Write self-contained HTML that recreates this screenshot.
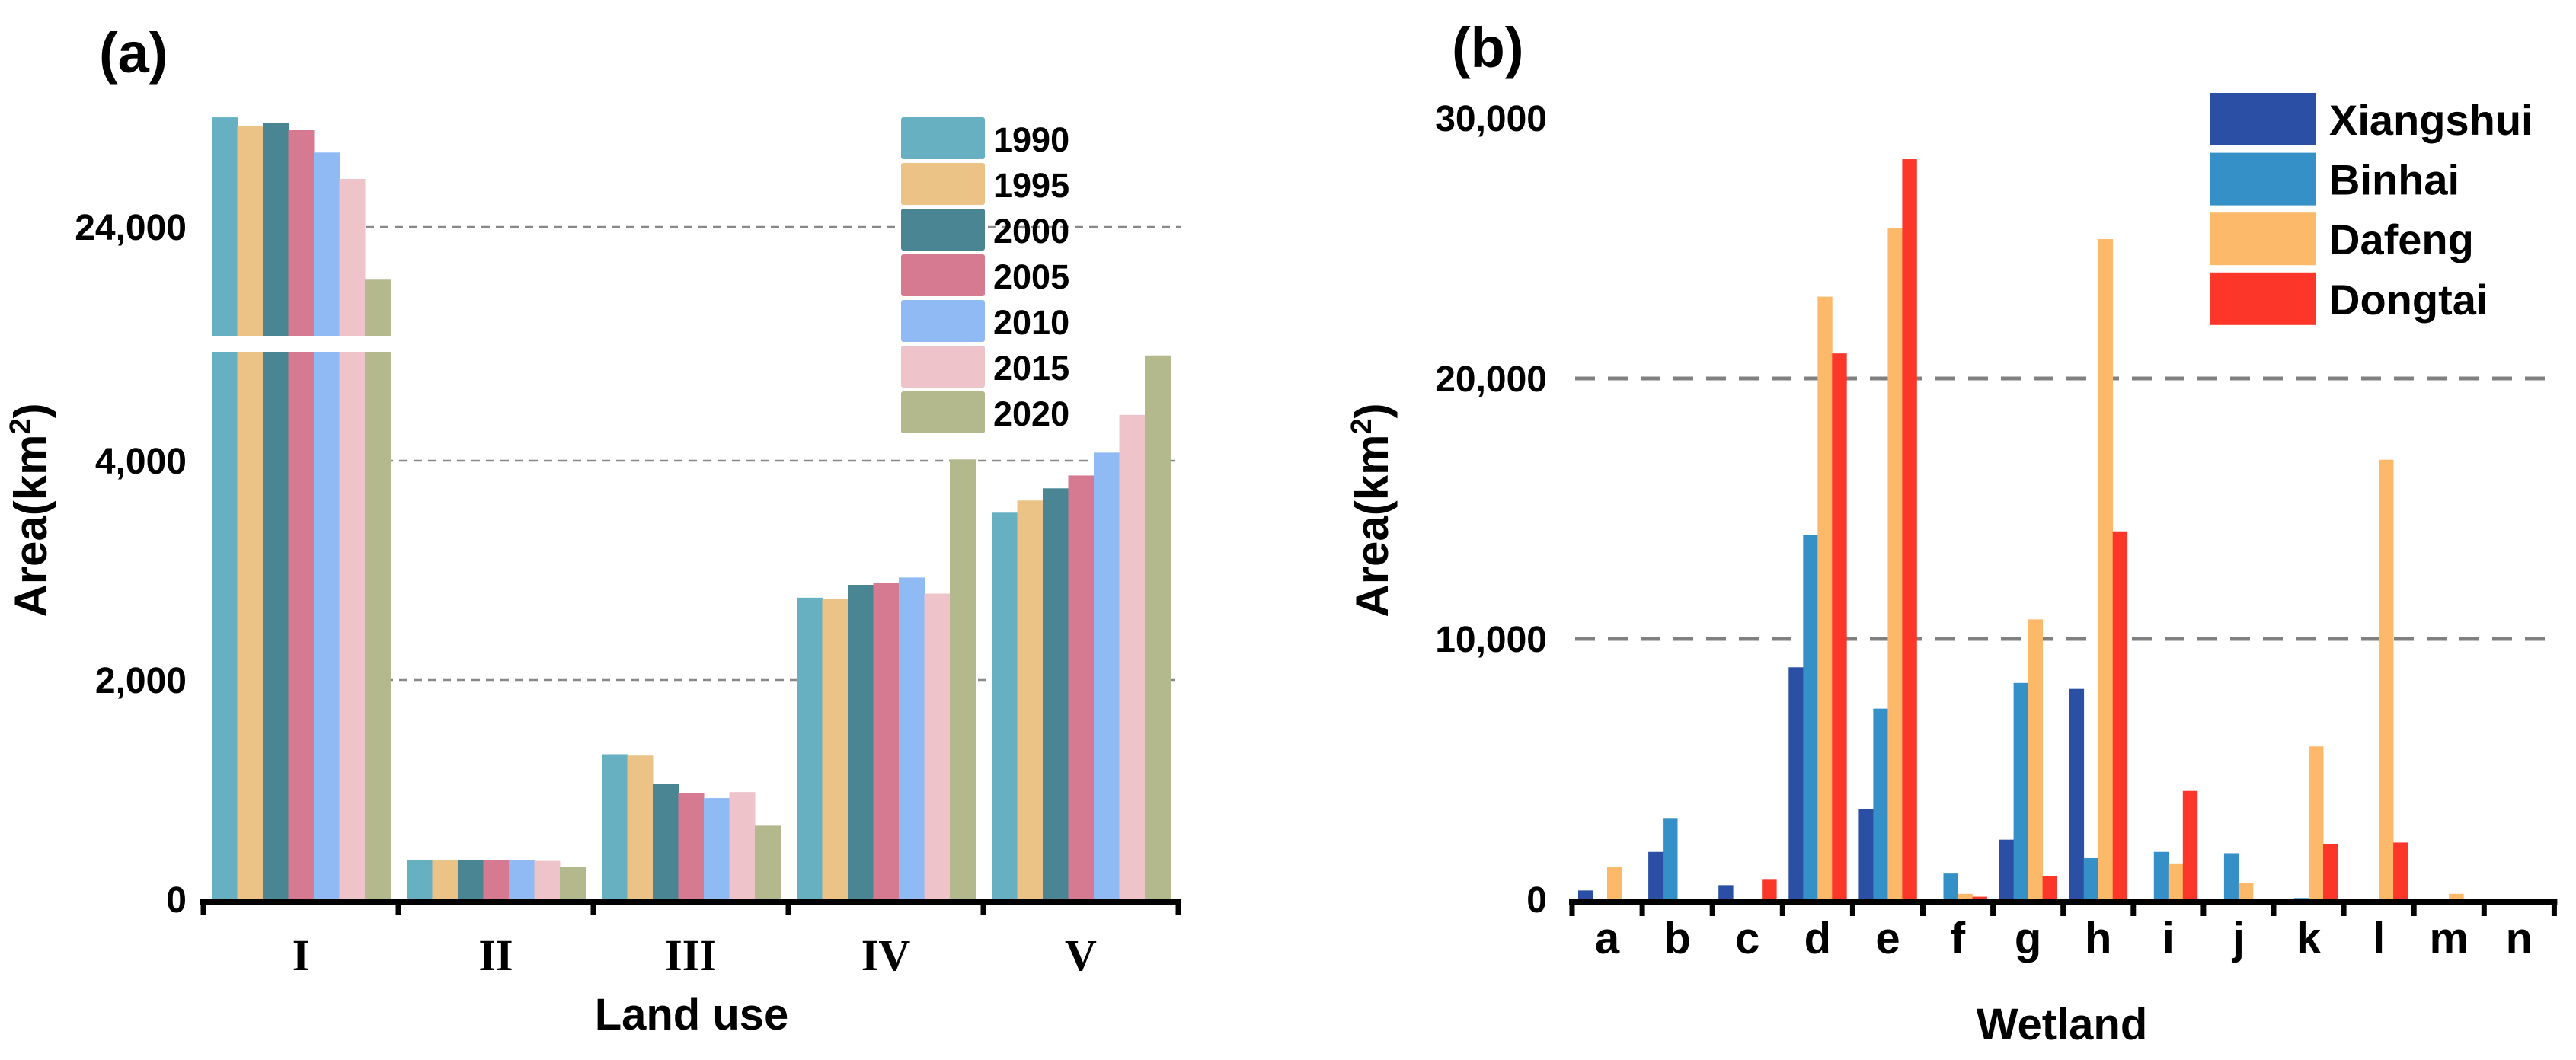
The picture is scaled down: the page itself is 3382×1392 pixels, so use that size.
<!DOCTYPE html>
<html><head><meta charset="utf-8"><style>
html,body{margin:0;padding:0;background:#fff;}
svg{display:block;font-family:"Liberation Sans","DejaVu Sans",sans-serif;font-weight:bold;}
</style></head><body>
<svg id="chart" width="3382" height="1392" viewBox="0 0 3382 1392" xmlns="http://www.w3.org/2000/svg">
<g id="pa"></g>
<g id="pb"></g>
</svg>
<script>
// ---- Panel (a) data ----
const landCats = ["I","II","III","IV","V"];
const years = ["1990","1995","2000","2005","2010","2015","2020"];
const yearColors = ["#67b0c1","#ebc386","#4a8593","#d67a92","#8fbaf3","#eec3ca","#b3b88d"];
const v1990 = [28025, 357, 1323, 2751, 3526];
const v1995 = [27702, 357, 1311, 2738, 3637];
const v2000 = [27826, 357, 1052, 2868, 3748];
const v2005 = [27553, 357, 966, 2886, 3865];
const v2010 = [26733, 360, 923, 2935, 4074];
const v2015 = [25764, 350, 978, 2788, 4418];
const v2020 = [22062, 295, 671, 4012, 4960];
const aTickVals = [0, 2000, 4000, 24000];
const aTickLabels = ["0","2,000","4,000","24,000"];
// ---- Panel (b) data ----
const wetCats = ["a","b","c","d","e","f","g","h","i","j","k","l","m","n"];
const regions = ["Xiangshui","Binhai","Dafeng","Dongtai"];
const regionColors = ["#2a4fa5","#3590c8","#fdb96a","#fc3628"];
const xiangshui = [340,1820,545,8910,3480,0,2290,8080,0,0,0,0,0,0];
const binhai = [0,3120,0,13980,7320,990,8310,1580,1820,1770,50,20,0,0];
const dafeng = [1250,0,0,23140,25790,210,10750,25350,1380,620,5870,16880,210,0];
const dongtai = [0,0,780,20960,28420,100,880,14130,4160,0,2130,2180,0,0];
const bTickVals = [0,10000,20000,30000];
const bTickLabels = ["0","10,000","20,000","30,000"];

const NS="http://www.w3.org/2000/svg";
function mk(tag, parent, attrs){const e=document.createElementNS(NS,tag);for(const k in attrs)e.setAttribute(k,attrs[k]);parent.appendChild(e);return e;}

// ===== Panel A =====
const pa=document.getElementById('pa');
const aX0=267, aBase=1181, aGroup=256;
function yA(v){
  if(v<=5000) return aBase - v*(1181-893)/2000;
  return 441 - (v-20000)*(441-298)/4000;
}
const aBreakTop=441, aBreakBot=462;
[[2000,505],[4000,505],[24000,480]].forEach(([v,x0])=>{
  const l=mk('line',pa,{x1:x0,x2:1551,y1:yA(v),y2:yA(v),stroke:'#888','stroke-width':2.5,'stroke-dasharray':'11 8'});
  
  
});
const aSeries=[v1990,v1995,v2000,v2005,v2010,v2015,v2020];
const bwA=33.5;
aSeries.forEach((ser,si)=>{
  ser.forEach((v,ci)=>{
    const x=aX0+ci*aGroup+11+si*bwA;
    if(v>5000){
      const r1=mk('rect',pa,{x:x,y:aBreakBot,width:bwA+0.5,height:aBase-aBreakBot,fill:yearColors[si]});
      
      
      const yt=yA(v);
      const r2=mk('rect',pa,{x:x,y:yt,width:bwA+0.5,height:aBreakTop-yt,fill:yearColors[si]});
      
      
    } else {
      const yt=yA(v);
      const r=mk('rect',pa,{x:x,y:yt,width:bwA+0.5,height:aBase-yt,fill:yearColors[si]});
      
      
    }
  });
});
const axA=mk('line',pa,{x1:aX0-4,x2:aX0+5*aGroup+4,y1:aBase+3.5,y2:aBase+3.5,stroke:'#000','stroke-width':7});


for(let i=0;i<=5;i++){
  const t=mk('line',pa,{x1:aX0+i*aGroup,x2:aX0+i*aGroup,y1:aBase,y2:1202,stroke:'#000','stroke-width':7});
  
  
}
landCats.forEach((c,i)=>{
  const t=mk('text',pa,{x:aX0+(i+0.5)*aGroup,y:1274,'text-anchor':'middle','font-size':58,'font-family':'"Liberation Serif",serif','font-weight':'bold'});
  t.textContent=c;
  
  
});
aTickVals.forEach((v,i)=>{
  const t=mk('text',pa,{x:245,y:yA(v)+17,'text-anchor':'end','font-size':48});
  t.textContent=aTickLabels[i];
  
  
});
years.forEach((y,i)=>{
  const r=mk('rect',pa,{x:1183,y:154+i*60,width:110,height:55,rx:3,fill:yearColors[i]});
  
  
  const t=mk('text',pa,{x:1304,y:154+i*60+45,'font-size':45});
  t.textContent=y;
  
  
});
</script>
<script>
(function(){
const pa=document.getElementById('pa');
const pb=document.getElementById('pb');
function tx(p,attrs,txt,name){const e=document.createElementNS("http://www.w3.org/2000/svg",'text');for(const k in attrs)e.setAttribute(k,attrs[k]);e.textContent=txt;p.appendChild(e);


return e;}
tx(pa,{x:130,y:95,'font-size':74},'(a)','panel-a-title');
const ya=tx(pa,{x:0,y:0,'font-size':60,'text-anchor':'middle',transform:'translate(61,670) rotate(-90)'},'','y-axis-title-a');
ya.innerHTML='Area(km<tspan dy="-22" font-size="38">2</tspan><tspan dy="22">)</tspan>';
tx(pa,{x:908,y:1352,'font-size':58,'text-anchor':'middle'},'Land use','x-axis-title-a');
tx(pb,{x:1906,y:88,'font-size':74},'(b)','panel-b-title');
const yb=tx(pb,{x:0,y:0,'font-size':60,'text-anchor':'middle',transform:'translate(1822,670) rotate(-90)'},'','y-axis-title-b');
yb.innerHTML='Area(km<tspan dy="-22" font-size="38">2</tspan><tspan dy="22">)</tspan>';
tx(pb,{x:2707,y:1365,'font-size':58,'text-anchor':'middle'},'Wetland','x-axis-title-b');
})();
</script>
<script>
(function(){
const pb=document.getElementById('pb');
const NS="http://www.w3.org/2000/svg";
function mk(tag, parent, attrs){const e=document.createElementNS(NS,tag);for(const k in attrs)e.setAttribute(k,attrs[k]);parent.appendChild(e);return e;}
const bX0=2064, bBase=1181, bGroup=92.1;
function yB(v){return bBase - v*(1181-497)/20000;}
[10000,20000].forEach(v=>{
  const l=mk('line',pb,{x1:2068,x2:3355,y1:yB(v),y2:yB(v),stroke:'#808080','stroke-width':5,'stroke-dasharray':'26 17'});
  
  
});
const series=[xiangshui,binhai,dafeng,dongtai];
const bw=19;
series.forEach((ser,si)=>{
  ser.forEach((v,ci)=>{
    if(v<=0) return;
    const x=bX0+ci*bGroup+8+si*bw;
    const yt=yB(v);
    const r=mk('rect',pb,{x:x,y:yt,width:bw+0.4,height:bBase-yt,fill:regionColors[si]});
    
    
  });
});
const ax=mk('line',pb,{x1:bX0-4,x2:bX0+14*bGroup+4,y1:bBase+3.5,y2:bBase+3.5,stroke:'#000','stroke-width':7});


for(let i=0;i<=14;i++){
  const t=mk('line',pb,{x1:bX0+i*bGroup,x2:bX0+i*bGroup,y1:bBase,y2:1203,stroke:'#000','stroke-width':7});
  
  
}
wetCats.forEach((c,i)=>{
  const t=mk('text',pb,{x:bX0+(i+0.5)*bGroup,y:1252,'text-anchor':'middle','font-size':58});
  t.textContent=c;
  
  
});
bTickVals.forEach((v,i)=>{
  const t=mk('text',pb,{x:2031,y:yB(v)+17,'text-anchor':'end','font-size':48});
  t.textContent=bTickLabels[i];
  
  
});
regions.forEach((r,i)=>{
  const s=mk('rect',pb,{x:2902,y:122+i*78.6,width:139,height:69,fill:regionColors[i]});
  
  
  const t=mk('text',pb,{x:3058,y:122+i*78.6+55,'font-size':56});
  t.textContent=r;
  
  
});
})();
</script>
</body></html>
